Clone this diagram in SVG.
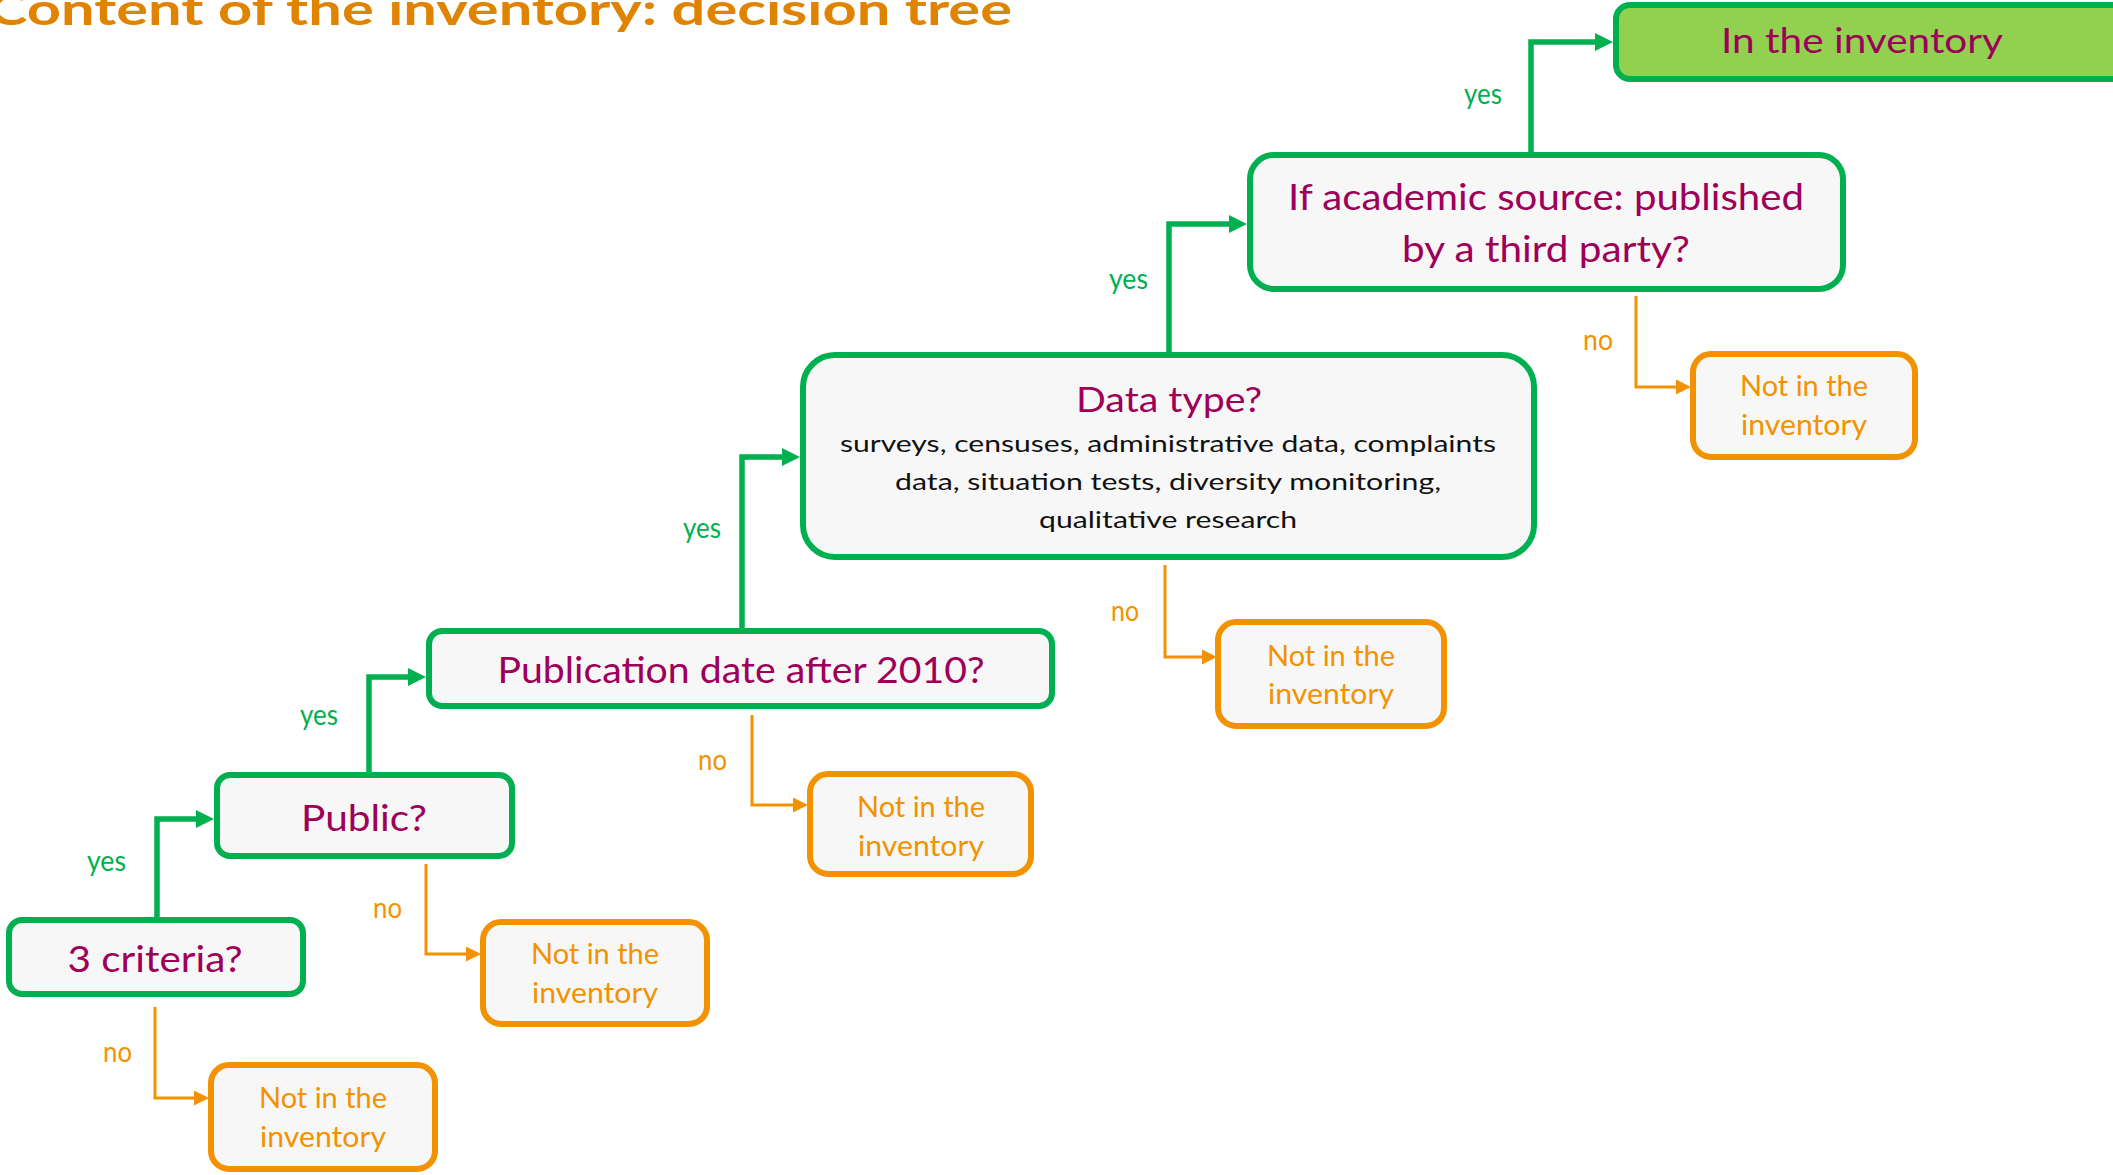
<svg xmlns="http://www.w3.org/2000/svg" width="2113" height="1175" viewBox="0 0 2113 1175">
<style>
text{font-family:Lato,"Open Sans","Liberation Sans",sans-serif}
.title{fill:#E08300;font-size:44px;font-weight:bold}
.q{fill:#9E0059;font-size:37px;text-anchor:middle}
.body{fill:#111111;font-size:24px;text-anchor:middle}
.nt{fill:#F39200;font-size:29px;text-anchor:middle}
.gbox{fill:#F7F7F7;stroke:#00B050;stroke-width:6}
.obox{fill:#F7F7F7;stroke:#F39200;stroke-width:6}
.gl{fill:none;stroke:#00B050;stroke-width:5.5;stroke-linejoin:miter}
.ol{fill:none;stroke:#F39200;stroke-width:3;stroke-linejoin:miter}
.yes{fill:#00B050;font-size:28px}
.no{fill:#F39200;font-size:28px}
</style>
<defs>
<marker id="ga" markerUnits="userSpaceOnUse" markerWidth="18" markerHeight="18" refX="0" refY="9" orient="auto"><path d="M0,0L18,9L0,18z" fill="#00B050"/></marker>
<marker id="oa" markerUnits="userSpaceOnUse" markerWidth="15" markerHeight="15" refX="0" refY="7.5" orient="auto"><path d="M0,0L15,7.5L0,15z" fill="#F39200"/></marker>
</defs>
<rect width="2113" height="1175" fill="#FFFFFF"/>
<text class="title" x="-12" y="25" textLength="1024" lengthAdjust="spacingAndGlyphs">Content of the inventory: decision tree</text>
<g id="connectors">
<path class="gl" d="M157,920V819H196" marker-end="url(#ga)"/>
<path class="gl" d="M369,775V677H408" marker-end="url(#ga)"/>
<path class="gl" d="M742,631V457H782" marker-end="url(#ga)"/>
<path class="gl" d="M1169,355V224H1229" marker-end="url(#ga)"/>
<path class="gl" d="M1531,155V42H1595" marker-end="url(#ga)"/>
<path class="ol" d="M155,1007V1098H194" marker-end="url(#oa)"/>
<path class="ol" d="M426,864V954H466" marker-end="url(#oa)"/>
<path class="ol" d="M752,715V805H793" marker-end="url(#oa)"/>
<path class="ol" d="M1165,565V657H1202" marker-end="url(#oa)"/>
<path class="ol" d="M1636,296V387H1676" marker-end="url(#oa)"/>
<text class="yes" x="87" y="871" textLength="39" lengthAdjust="spacingAndGlyphs">yes</text>
<text class="yes" x="300" y="725" textLength="38" lengthAdjust="spacingAndGlyphs">yes</text>
<text class="yes" x="683" y="538" textLength="38" lengthAdjust="spacingAndGlyphs">yes</text>
<text class="yes" x="1109" y="289" textLength="39" lengthAdjust="spacingAndGlyphs">yes</text>
<text class="yes" x="1464" y="104" textLength="38" lengthAdjust="spacingAndGlyphs">yes</text>
<text class="no" x="103" y="1062" textLength="29" lengthAdjust="spacingAndGlyphs">no</text>
<text class="no" x="373" y="918" textLength="29" lengthAdjust="spacingAndGlyphs">no</text>
<text class="no" x="698" y="770" textLength="29" lengthAdjust="spacingAndGlyphs">no</text>
<text class="no" x="1111" y="621" textLength="28" lengthAdjust="spacingAndGlyphs">no</text>
<text class="no" x="1583" y="350" textLength="30" lengthAdjust="spacingAndGlyphs">no</text>
</g>
<g id="node-criteria">
<rect class="gbox" x="9" y="920" width="294" height="74" rx="13"/>
<text class="q" x="155" y="972" textLength="175" lengthAdjust="spacingAndGlyphs">3 criteria?</text>
</g>
<g id="node-public">
<rect class="gbox" x="217" y="775" width="295" height="81" rx="13"/>
<text class="q" x="364" y="831" textLength="126" lengthAdjust="spacingAndGlyphs">Public?</text>
</g>
<g id="node-date">
<rect class="gbox" x="429" y="631" width="623" height="75" rx="13"/>
<text class="q" x="741" y="683" textLength="487" lengthAdjust="spacingAndGlyphs">Publication date after 2010?</text>
</g>
<g id="node-datatype">
<rect class="gbox" x="803" y="355" width="731" height="202" rx="32"/>
<text class="q" x="1169" y="412" style="font-size:35px" textLength="186" lengthAdjust="spacingAndGlyphs">Data type?</text>
<text class="body" x="1168" y="452" textLength="656" lengthAdjust="spacingAndGlyphs">surveys, censuses, administrative data, complaints</text>
<text class="body" x="1168" y="490" textLength="546" lengthAdjust="spacingAndGlyphs">data, situation tests, diversity monitoring,</text>
<text class="body" x="1168" y="528" textLength="258" lengthAdjust="spacingAndGlyphs">qualitative research</text>
</g>
<g id="node-academic">
<rect class="gbox" x="1250" y="155" width="593" height="134" rx="24"/>
<text class="q" x="1546" y="210" textLength="516" lengthAdjust="spacingAndGlyphs">If academic source: published</text>
<text class="q" x="1546" y="262" textLength="288" lengthAdjust="spacingAndGlyphs">by a third party?</text>
</g>
<g id="node-in">
<rect x="1616" y="5" width="510" height="74" rx="14" fill="#92D050" stroke="#00B050" stroke-width="6"/>
<text class="q" x="1862" y="53" style="font-size:35px" textLength="282" lengthAdjust="spacingAndGlyphs">In the inventory</text>
</g>
<g id="node-not1">
<rect class="obox" x="211" y="1065" width="224" height="104" rx="18"/>
<text class="nt" x="323" y="1108" textLength="128" lengthAdjust="spacingAndGlyphs">Not in the</text>
<text class="nt" x="323" y="1147" textLength="126" lengthAdjust="spacingAndGlyphs">inventory</text>
</g>
<g id="node-not2">
<rect class="obox" x="483" y="922" width="224" height="102" rx="18"/>
<text class="nt" x="595" y="964" textLength="128" lengthAdjust="spacingAndGlyphs">Not in the</text>
<text class="nt" x="595" y="1003" textLength="126" lengthAdjust="spacingAndGlyphs">inventory</text>
</g>
<g id="node-not3">
<rect class="obox" x="810" y="774" width="221" height="100" rx="18"/>
<text class="nt" x="921" y="817" textLength="128" lengthAdjust="spacingAndGlyphs">Not in the</text>
<text class="nt" x="921" y="856" textLength="126" lengthAdjust="spacingAndGlyphs">inventory</text>
</g>
<g id="node-not4">
<rect class="obox" x="1218" y="622" width="226" height="104" rx="18"/>
<text class="nt" x="1331" y="666" textLength="128" lengthAdjust="spacingAndGlyphs">Not in the</text>
<text class="nt" x="1331" y="704" textLength="126" lengthAdjust="spacingAndGlyphs">inventory</text>
</g>
<g id="node-not5">
<rect class="obox" x="1693" y="354" width="222" height="103" rx="18"/>
<text class="nt" x="1804" y="396" textLength="128" lengthAdjust="spacingAndGlyphs">Not in the</text>
<text class="nt" x="1804" y="435" textLength="126" lengthAdjust="spacingAndGlyphs">inventory</text>
</g>
</svg>
